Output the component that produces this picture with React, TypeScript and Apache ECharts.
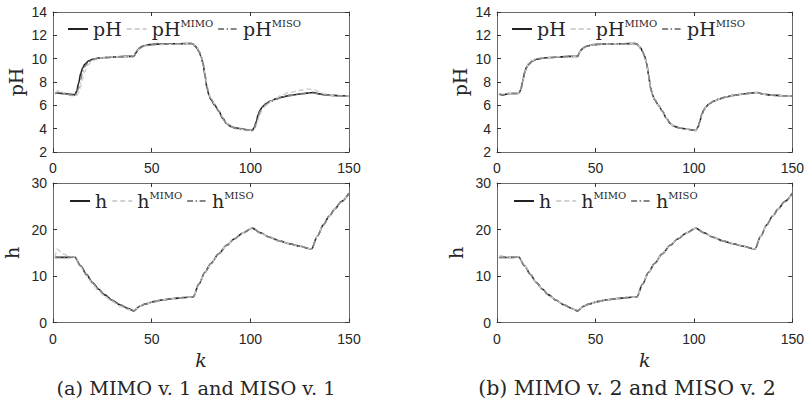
import React, { useEffect, useRef } from "react";
import * as echarts from "echarts";

// sample instants k for the pH plots
const K_PH = [1, 3, 6, 9, 11, 12, 13, 14, 15, 16, 18, 20, 23, 27, 32, 37, 41, 42, 43, 44, 46, 49, 53, 58, 64, 70, 71, 72, 73, 74, 75, 76, 77, 78, 79, 80, 82, 84, 86, 88, 90, 93, 96, 99, 101, 102, 103, 104, 105, 106, 108, 110, 113, 116, 120, 125, 129, 132, 135, 138, 142, 146, 150];

// (a) pH
const PH_A = [7.05, 7.05, 7.0, 6.95, 6.9, 7.2, 7.9, 8.7, 9.2, 9.5, 9.8, 9.95, 10.05, 10.1, 10.15, 10.2, 10.2, 10.5, 10.75, 10.95, 11.1, 11.2, 11.25, 11.27, 11.28, 11.3, 11.25, 11.1, 10.9, 10.6, 10.2, 9.6, 8.6, 7.5, 6.9, 6.5, 6.0, 5.5, 4.9, 4.45, 4.2, 4.05, 3.97, 3.9, 3.85, 4.1, 4.6, 5.2, 5.6, 5.85, 6.15, 6.35, 6.55, 6.7, 6.85, 6.97, 7.05, 7.1, 6.98, 6.9, 6.85, 6.82, 6.8];
const PH_MIMO_A = [7.0, 7.3, 7.0, 6.85, 6.78, 6.85, 7.1, 7.6, 8.3, 8.9, 9.5, 9.85, 10.05, 10.12, 10.15, 10.18, 10.2, 10.4, 10.7, 10.9, 11.05, 11.15, 11.2, 11.23, 11.25, 11.3, 11.28, 11.15, 10.95, 10.7, 10.3, 9.7, 8.8, 7.7, 7.0, 6.6, 6.1, 5.6, 5.0, 4.5, 4.2, 4.0, 3.92, 3.88, 3.85, 3.95, 4.3, 4.8, 5.3, 5.65, 6.0, 6.3, 6.6, 6.9, 7.1, 7.28, 7.4, 7.35, 7.15, 6.95, 6.85, 6.82, 6.8];
const PH_MISO_A = [7.0, 7.1, 7.0, 6.9, 6.85, 7.0, 7.5, 8.2, 8.9, 9.3, 9.7, 9.9, 10.05, 10.1, 10.15, 10.18, 10.2, 10.45, 10.7, 10.9, 11.08, 11.18, 11.23, 11.26, 11.27, 11.3, 11.27, 11.12, 10.92, 10.62, 10.22, 9.65, 8.7, 7.6, 6.95, 6.55, 6.05, 5.5, 4.85, 4.4, 4.15, 4.0, 3.93, 3.88, 3.85, 4.0, 4.45, 5.05, 5.5, 5.8, 6.1, 6.3, 6.52, 6.68, 6.83, 6.95, 7.03, 7.05, 6.95, 6.88, 6.84, 6.81, 6.78];

// (b) pH
const PH_B = [6.95, 6.9, 7.0, 7.02, 7.02, 7.3, 8.0, 8.8, 9.25, 9.5, 9.8, 9.95, 10.05, 10.1, 10.15, 10.2, 10.2, 10.55, 10.8, 10.95, 11.1, 11.2, 11.25, 11.27, 11.28, 11.3, 11.25, 11.1, 10.9, 10.6, 10.2, 9.6, 8.6, 7.5, 6.9, 6.5, 6.0, 5.5, 4.9, 4.45, 4.2, 4.05, 3.97, 3.9, 3.85, 4.1, 4.6, 5.2, 5.6, 5.85, 6.15, 6.35, 6.55, 6.7, 6.85, 6.97, 7.05, 7.1, 6.98, 6.9, 6.85, 6.82, 6.8];
const PH_MIMO_B = [7.0, 6.95, 7.0, 7.02, 7.02, 7.2, 7.9, 8.7, 9.3, 9.6, 9.85, 9.98, 10.07, 10.12, 10.16, 10.2, 10.2, 10.5, 10.8, 10.95, 11.1, 11.2, 11.25, 11.27, 11.28, 11.3, 11.27, 11.12, 10.9, 10.6, 10.2, 9.6, 8.6, 7.5, 6.9, 6.5, 6.0, 5.5, 4.9, 4.45, 4.2, 4.05, 3.97, 3.9, 3.87, 4.05, 4.5, 5.1, 5.55, 5.85, 6.15, 6.35, 6.55, 6.7, 6.85, 6.97, 7.05, 7.08, 6.98, 6.9, 6.85, 6.82, 6.8];
const PH_MISO_B = [6.95, 6.92, 7.0, 7.02, 7.02, 7.25, 7.95, 8.75, 9.25, 9.52, 9.8, 9.95, 10.05, 10.1, 10.15, 10.2, 10.2, 10.52, 10.8, 10.95, 11.1, 11.2, 11.25, 11.27, 11.28, 11.3, 11.26, 11.1, 10.9, 10.6, 10.2, 9.6, 8.6, 7.5, 6.9, 6.5, 6.0, 5.5, 4.9, 4.45, 4.2, 4.05, 3.97, 3.9, 3.86, 4.08, 4.55, 5.15, 5.58, 5.85, 6.15, 6.35, 6.55, 6.7, 6.85, 6.97, 7.05, 7.09, 6.98, 6.9, 6.85, 6.82, 6.8];

// sample instants k for the h plots
const K_H = [1, 2, 4, 6, 8, 11, 14, 17, 20, 23, 26, 30, 34, 38, 41, 44, 47, 51, 56, 61, 66, 71, 74, 77, 80, 84, 88, 92, 96, 101, 105, 110, 115, 120, 125, 131, 134, 137, 140, 143, 146, 150];

// (a) h
const H_A = [14.0, 14.0, 14.0, 14.0, 14.0, 14.1, 12.2, 10.3, 8.6, 7.2, 6.0, 4.8, 3.8, 3.0, 2.5, 3.5, 4.0, 4.5, 4.9, 5.15, 5.35, 5.5, 8.3, 10.8, 12.7, 14.8, 16.6, 18.0, 19.2, 20.3, 19.3, 18.3, 17.5, 16.9, 16.4, 15.8, 18.6, 21.0, 22.9, 24.5, 26.0, 27.8];
const H_MIMO_A = [14.0, 15.8, 15.2, 14.6, 14.2, 14.1, 12.0, 10.0, 8.3, 6.9, 5.7, 4.5, 3.5, 2.8, 2.5, 3.5, 4.0, 4.5, 4.9, 5.15, 5.35, 5.5, 8.3, 10.8, 12.7, 14.8, 16.6, 18.0, 19.2, 20.3, 19.3, 18.3, 17.5, 16.9, 16.4, 15.8, 18.6, 21.0, 22.9, 24.5, 26.0, 27.8];
const H_MISO_A = [14.0, 14.1, 14.0, 14.0, 14.0, 14.1, 12.2, 10.3, 8.6, 7.2, 6.0, 4.8, 3.8, 3.0, 2.5, 3.5, 4.0, 4.5, 4.9, 5.15, 5.35, 5.5, 8.3, 10.8, 12.7, 14.8, 16.6, 18.0, 19.2, 20.3, 19.3, 18.3, 17.5, 16.9, 16.4, 15.8, 18.6, 21.0, 22.9, 24.5, 26.0, 27.8];

// (b) h
const H_B = [14.0, 14.0, 14.0, 14.0, 14.0, 14.1, 12.2, 10.3, 8.6, 7.2, 6.0, 4.8, 3.8, 3.0, 2.5, 3.5, 4.0, 4.5, 4.9, 5.15, 5.35, 5.5, 8.3, 10.8, 12.7, 14.8, 16.6, 18.0, 19.2, 20.3, 19.3, 18.3, 17.5, 16.9, 16.4, 15.8, 18.6, 21.0, 22.9, 24.5, 26.0, 27.8];
const H_MIMO_B = [14.0, 14.4, 14.2, 14.05, 14.0, 14.1, 12.2, 10.3, 8.6, 7.2, 6.0, 4.8, 3.8, 3.0, 2.5, 3.5, 4.0, 4.5, 4.9, 5.15, 5.35, 5.5, 8.3, 10.8, 12.7, 14.8, 16.6, 18.0, 19.2, 20.3, 19.3, 18.3, 17.5, 16.9, 16.4, 15.8, 18.6, 21.0, 22.9, 24.5, 26.0, 27.8];
const H_MISO_B = [14.0, 14.0, 14.0, 14.0, 14.0, 14.1, 12.2, 10.3, 8.6, 7.2, 6.0, 4.8, 3.8, 3.0, 2.5, 3.5, 4.0, 4.5, 4.9, 5.15, 5.35, 5.5, 8.3, 10.8, 12.7, 14.8, 16.6, 18.0, 19.2, 20.3, 19.3, 18.3, 17.5, 16.9, 16.4, 15.8, 18.6, 21.0, 22.9, 24.5, 26.0, 27.8];

const PH_NAMES = ["pH", "pH_MIMO", "pH_MISO"];
const H_NAMES = ["h", "h_MIMO", "h_MISO"];
const CAPTIONS = ["(a) MIMO v. 1 and MISO v. 1", "(b) MIMO v. 2 and MISO v. 2"];

const SANS = "'Liberation Sans', Arial, sans-serif";
const SERIF = "'DejaVu Serif', serif";
const TXT = "#262626";
const AXIS = "#6a6a6a";

const STYLES = [
  { color: "#222222", width: 1.6, type: "solid" as any },
  { color: "#d2d2d2", width: 1.6, type: [5, 3] as any },
  { color: "#858585", width: 1.4, type: [6, 2.5, 1.5, 2.5] as any },
];

const GRIDS = [
  { left: 53, top: 12, width: 296, height: 140 },
  { left: 53, top: 183, width: 296, height: 139.5 },
  { left: 497, top: 12, width: 296, height: 140 },
  { left: 497, top: 183, width: 296, height: 139.5 },
];

function pairs(k: number[], v: number[]) {
  return k.map((x, i) => [x, v[i]]);
}

export default function App() {
  const ref = useRef<HTMLDivElement>(null);

  useEffect(() => {
    if (!ref.current) return;
    const chart = echarts.init(ref.current, undefined, { renderer: "svg" });

    const plots = [
      { k: K_PH, vals: [PH_A, PH_MIMO_A, PH_MISO_A], names: PH_NAMES, min: 2, max: 14, interval: 2, yname: "pH", kname: false, gap: 28 },
      { k: K_H, vals: [H_A, H_MIMO_A, H_MISO_A], names: H_NAMES, min: 0, max: 30, interval: 10, yname: "h", kname: true, gap: 32 },
      { k: K_PH, vals: [PH_B, PH_MIMO_B, PH_MISO_B], names: PH_NAMES, min: 2, max: 14, interval: 2, yname: "pH", kname: false, gap: 28 },
      { k: K_H, vals: [H_B, H_MIMO_B, H_MISO_B], names: H_NAMES, min: 0, max: 30, interval: 10, yname: "h", kname: true, gap: 32 },
    ];

    const xAxis: any[] = [];
    const yAxis: any[] = [];
    const series: any[] = [];
    const legend: any[] = [];

    const tick = { show: true, inside: true, length: 4, lineStyle: { color: "#333", width: 1 } };
    const line = { show: true, onZero: false, lineStyle: { color: AXIS, width: 1 } };

    plots.forEach((p, i) => {
      xAxis.push({
        type: "value", gridIndex: i, position: "bottom", min: 0, max: 150, interval: 50,
        axisLine: line, axisTick: tick, splitLine: { show: false },
        axisLabel: { show: true, fontFamily: SANS, fontSize: 14, color: TXT, margin: 9 },
        name: p.kname ? "k" : "", nameLocation: "middle", nameGap: 28, nameMoveOverlap: false,
        nameTextStyle: { fontFamily: SERIF, fontStyle: "italic", fontSize: 19, color: TXT },
      });
      xAxis.push({
        type: "value", gridIndex: i, position: "top", min: 0, max: 150, interval: 50,
        axisLine: line, axisTick: tick, splitLine: { show: false }, axisLabel: { show: false },
      });
      yAxis.push({
        type: "value", gridIndex: i, position: "left", min: p.min, max: p.max, interval: p.interval,
        axisLine: line, axisTick: tick, splitLine: { show: false },
        axisLabel: { show: true, fontFamily: SANS, fontSize: 14, color: TXT, margin: 6 },
        name: p.yname, nameLocation: "middle", nameGap: p.gap, nameMoveOverlap: false,
        nameTextStyle: { fontFamily: SERIF, fontSize: 19, color: TXT },
      });
      yAxis.push({
        type: "value", gridIndex: i, position: "right", min: p.min, max: p.max, interval: p.interval,
        axisLine: line, axisTick: tick, splitLine: { show: false }, axisLabel: { show: false },
      });
      p.names.forEach((nm, j) => {
        series.push({
          type: "line", name: nm, xAxisIndex: 2 * i, yAxisIndex: 2 * i,
          data: pairs(p.k, p.vals[j]), symbol: "none", showSymbol: false,
          smooth: 0.3, smoothMonotone: "x",
          lineStyle: { ...STYLES[j] }, itemStyle: { color: STYLES[j].color },
          z: 2 + j, silent: true,
        });
      });
      const isPH = p.yname === "pH";
      legend.push({
        data: p.names, left: GRIDS[i].left + (isPH ? 14 : 16), top: GRIDS[i].top + (isPH ? 6 : 7),
        orient: "horizontal", padding: 0, itemGap: 4, itemWidth: 20, itemHeight: 12,
        selectedMode: false,
        itemStyle: { opacity: 0 },
        textStyle: {
          fontFamily: SERIF, fontSize: 19, color: TXT,
          rich: { sup: { fontFamily: SERIF, fontSize: 10, color: TXT, padding: [0, 0, 12, 0] } },
        },
        formatter: (name: string) => {
          const idx = name.indexOf("_");
          return idx < 0 ? name : name.slice(0, idx) + "{sup|" + name.slice(idx + 1) + "}";
        },
      });
    });

    const option: any = {
      animation: false,
      backgroundColor: "#ffffff",
      grid: GRIDS.map((g) => ({ ...g, containLabel: false })),
      xAxis,
      yAxis,
      legend,
      series,
      graphic: [
        { type: "text", x: 196, y: 388, style: { text: CAPTIONS[0], fontFamily: SERIF, fontSize: 19.3, fill: TXT, align: "center", verticalAlign: "middle" } },
        { type: "text", x: 627, y: 388, style: { text: CAPTIONS[1], fontFamily: SERIF, fontSize: 20.5, fill: TXT, align: "center", verticalAlign: "middle" } },
      ],
    };
    chart.setOption(option);
    return () => chart.dispose();
  }, []);

  return (
    <div
      ref={ref}
      style={{ position: "absolute", left: 0, top: 0, width: 807, height: 411, background: "#fff" }}
    />
  );
}
